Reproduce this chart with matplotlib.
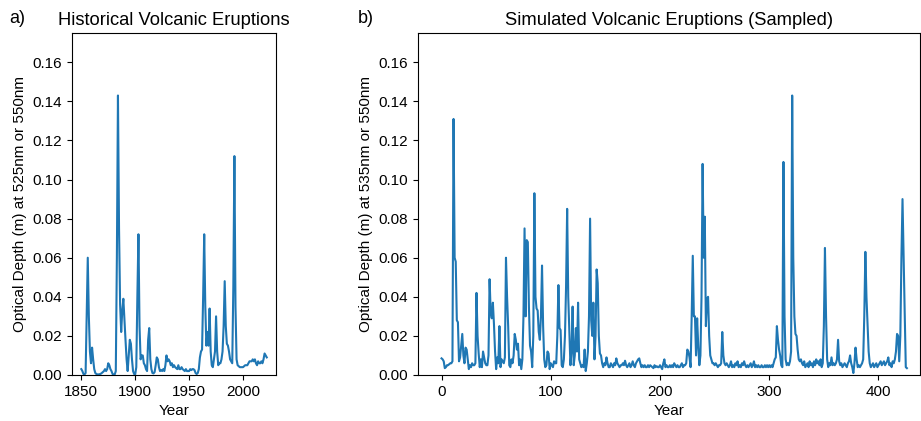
import numpy as np
import matplotlib.pyplot as plt

plt.rcParams['font.family'] = ['Liberation Sans', 'DejaVu Sans']

# Historical aerosol optical depth, annual, 1850-2022
hist_years = np.arange(1850, 2023)
hist_aod = [
    0.003, 0.002, 0.0005, 0.0003, 0.001, 0.030, 0.060, 0.030, 0.012, 0.006,   # 1850s
    0.014, 0.008, 0.003, 0.001, 0.0005, 0.0003, 0.0003, 0.0004, 0.0006, 0.001,  # 1860s
    0.0015, 0.002, 0.003, 0.002, 0.003, 0.006, 0.005, 0.003, 0.002, 0.0005,  # 1870s
    0.0002, 0.0003, 0.002, 0.060, 0.143, 0.075, 0.036, 0.022, 0.033, 0.039,  # 1880s
    0.028, 0.018, 0.008, 0.002, 0.010, 0.018, 0.016, 0.008, 0.002, 0.0005,  # 1890s
    0.0003, 0.004, 0.040, 0.072, 0.025, 0.008, 0.010, 0.010, 0.006, 0.005,  # 1900s
    0.003, 0.002, 0.018, 0.024, 0.008, 0.003, 0.001, 0.0008, 0.0015, 0.005,  # 1910s
    0.009, 0.008, 0.004, 0.002, 0.0025, 0.002, 0.003, 0.002, 0.005, 0.010,  # 1920s
    0.007, 0.008, 0.007, 0.005, 0.006, 0.004, 0.005, 0.004, 0.0035, 0.003,  # 1930s
    0.005, 0.003, 0.003, 0.004, 0.003, 0.0025, 0.002, 0.003, 0.002, 0.002,  # 1940s
    0.002, 0.003, 0.0025, 0.003, 0.003, 0.0025, 0.001, 0.0005, 0.001, 0.003,  # 1950s
    0.009, 0.012, 0.013, 0.040, 0.072, 0.035, 0.015, 0.022, 0.015, 0.034,  # 1960s
    0.012, 0.005, 0.004, 0.008, 0.012, 0.030, 0.012, 0.005, 0.006, 0.006,  # 1970s
    0.008, 0.012, 0.025, 0.048, 0.025, 0.016, 0.015, 0.012, 0.008, 0.007,  # 1980s
    0.006, 0.045, 0.112, 0.035, 0.008, 0.005, 0.0045, 0.004, 0.004, 0.004,  # 1990s
    0.004, 0.0045, 0.005, 0.005, 0.005, 0.006, 0.007, 0.007, 0.007, 0.008,  # 2000s
    0.007, 0.008, 0.006, 0.005, 0.007, 0.006, 0.006, 0.007, 0.006, 0.008,  # 2010s
    0.011, 0.010, 0.009,                                                    # 2020-2022
]

# Simulated (sampled) optical depth, one value per year index
sim_aod = [
    0.0085, 0.008, 0.007, 0.0035, 0.004, 0.005, 0.005, 0.0055, 0.006, 0.006,
    0.007, 0.131, 0.060, 0.058, 0.028, 0.027, 0.007, 0.009, 0.015, 0.021,
    0.010, 0.006, 0.014, 0.013, 0.008, 0.003, 0.005, 0.004, 0.006, 0.005,
    0.005, 0.006, 0.042, 0.020, 0.011, 0.004, 0.008, 0.004, 0.012, 0.009,
    0.006, 0.005, 0.005, 0.010, 0.049, 0.032, 0.029, 0.037, 0.026, 0.012,
    0.003, 0.009, 0.006, 0.025, 0.004, 0.008, 0.007, 0.006, 0.009, 0.060,
    0.040, 0.025, 0.005, 0.004, 0.008, 0.006, 0.010, 0.021, 0.018, 0.013,
    0.016, 0.005, 0.008, 0.003, 0.008, 0.030, 0.075, 0.030, 0.069, 0.068,
    0.035, 0.015, 0.012, 0.004, 0.020, 0.093, 0.040, 0.034, 0.033, 0.022,
    0.018, 0.030, 0.056, 0.025, 0.008, 0.004, 0.005, 0.012, 0.011, 0.003,
    0.006, 0.005, 0.004, 0.007, 0.006, 0.006, 0.020, 0.046, 0.024, 0.023,
    0.005, 0.004, 0.008, 0.020, 0.045, 0.085, 0.040, 0.023, 0.005, 0.012,
    0.035, 0.005, 0.010, 0.024, 0.012, 0.037, 0.008, 0.006, 0.004, 0.005,
    0.004, 0.013, 0.002, 0.006, 0.012, 0.030, 0.080, 0.028, 0.020, 0.037,
    0.008, 0.020, 0.054, 0.047, 0.020, 0.011, 0.010, 0.006, 0.004, 0.006,
    0.005, 0.009, 0.006, 0.004, 0.004, 0.006, 0.005, 0.004, 0.006, 0.005,
    0.0085, 0.006, 0.005, 0.004, 0.005, 0.005, 0.006, 0.005, 0.0073, 0.005,
    0.004, 0.005, 0.006, 0.004, 0.005, 0.007, 0.005, 0.004, 0.006, 0.007,
    0.008, 0.0085, 0.006, 0.004, 0.005, 0.004, 0.005, 0.004, 0.004, 0.005,
    0.004, 0.005, 0.0045, 0.004, 0.0035, 0.005, 0.004, 0.0045, 0.004, 0.004,
    0.005, 0.004, 0.003, 0.006, 0.008, 0.004, 0.005, 0.004, 0.004, 0.005,
    0.004, 0.005, 0.004, 0.006, 0.005, 0.004, 0.005, 0.004, 0.004, 0.005,
    0.006, 0.004, 0.005, 0.005, 0.006, 0.013, 0.012, 0.009, 0.004, 0.030,
    0.061, 0.030, 0.030, 0.010, 0.029, 0.015, 0.005, 0.010, 0.040, 0.108,
    0.060, 0.081, 0.025, 0.039, 0.040, 0.020, 0.010, 0.008, 0.006, 0.006,
    0.005, 0.006, 0.005, 0.004, 0.005, 0.005, 0.006, 0.022, 0.010, 0.006,
    0.005, 0.006, 0.005, 0.004, 0.005, 0.007, 0.004, 0.005, 0.004, 0.006,
    0.005, 0.007, 0.004, 0.005, 0.004, 0.006, 0.005, 0.007, 0.005, 0.004,
    0.005, 0.004, 0.005, 0.006, 0.004, 0.005, 0.007, 0.004, 0.005, 0.004,
    0.005, 0.004, 0.004, 0.005, 0.004, 0.004, 0.005, 0.004, 0.005, 0.004,
    0.005, 0.004, 0.005, 0.004, 0.006, 0.008, 0.009, 0.025, 0.018, 0.013,
    0.010, 0.005, 0.004, 0.109, 0.030, 0.008, 0.005, 0.006, 0.005, 0.007,
    0.012, 0.143, 0.060, 0.030, 0.021, 0.020, 0.013, 0.008, 0.007, 0.008,
    0.006, 0.005, 0.007, 0.004, 0.005, 0.006, 0.004, 0.007, 0.005, 0.006,
    0.004, 0.007, 0.005, 0.008, 0.006, 0.007, 0.005, 0.008, 0.004, 0.006,
    0.025, 0.065, 0.030, 0.008, 0.004, 0.006, 0.005, 0.009, 0.005, 0.006,
    0.005, 0.006, 0.008, 0.018, 0.007, 0.005, 0.006, 0.004, 0.005, 0.006,
    0.005, 0.004, 0.006, 0.007, 0.010, 0.006, 0.004, 0.001, 0.006, 0.014,
    0.008, 0.004, 0.005, 0.004, 0.005, 0.006, 0.008, 0.030, 0.063, 0.040,
    0.026, 0.012, 0.006, 0.004, 0.005, 0.006, 0.004, 0.005, 0.006, 0.004,
    0.005, 0.006, 0.007, 0.005, 0.006, 0.007, 0.005, 0.006, 0.007, 0.009,
    0.005, 0.006, 0.004, 0.007, 0.006, 0.008, 0.012, 0.021, 0.020, 0.007,
    0.020, 0.060, 0.090, 0.060, 0.032, 0.004, 0.0035,
]
sim_years = np.arange(len(sim_aod))

y_ticks = np.arange(0, 0.17, 0.02)

fig = plt.figure(figsize=(9.21, 4.21), dpi=100)
ax1 = fig.add_axes([0.0782, 0.1093, 0.2215, 0.8124])
ax2 = fig.add_axes([0.4539, 0.1093, 0.5450, 0.8124])

ax1.plot(hist_years, hist_aod, color='#1f77b4', lw=1.5)
ax1.set_title("Historical Volcanic Eruptions", fontsize=13.2)
ax1.set_xlabel("Year", fontsize=11)
ax1.set_ylabel("Optical Depth (m) at 525nm or 550nm", fontsize=11)
ax1.set_xticks([1850, 1900, 1950, 2000])

ax2.plot(sim_years, sim_aod, color='#1f77b4', lw=1.5)
ax2.set_title("Simulated Volcanic Eruptions (Sampled)", fontsize=13.2)
ax2.set_xlabel("Year", fontsize=11)
ax2.set_ylabel("Optical Depth (m) at 535nm or 550nm", fontsize=11)
ax2.set_xticks([0, 100, 200, 300, 400])
ax2.set_xlim(-21.5, 438)

for ax in (ax1, ax2):
    ax.set_ylim(0, 0.175)
    ax.set_yticks(y_ticks)
    ax.set_yticklabels([f"{t:.2f}" for t in y_ticks])
    ax.tick_params(labelsize=11)

fig.text(0.010, 0.955, "a)", fontsize=13, va='center')
fig.text(0.388, 0.955, "b)", fontsize=13, va='center')

fig.savefig("out.png", dpi=100)
